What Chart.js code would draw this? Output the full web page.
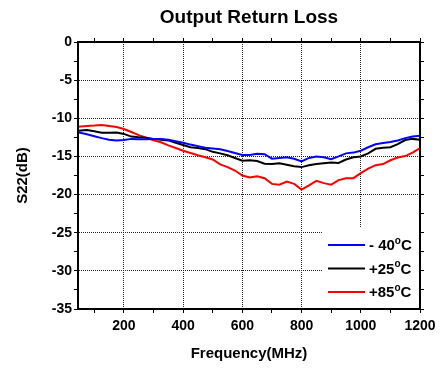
<!DOCTYPE html>
<html><head><meta charset="utf-8">
<script src="https://cdn.jsdelivr.net/npm/chart.js@4/dist/chart.umd.min.js"></script>
<style>html,body{margin:0;padding:0;background:#fff}#wrap{width:448px;height:369px}</style>
</head><body><div id="wrap"><canvas id="c" width="448" height="369"></canvas></div>
<script>
const freqMHz = [45,75,100,125,150,175,200,225,250,275,300,325,350,375,400,425,450,475,500,525,550,575,600,625,650,675,700,725,750,775,800,825,850,875,900,925,950,975,1000,1025,1050,1075,1100,1125,1150,1175,1200];
const s22Minus40 = [-11.83,-12.1,-12.35,-12.6,-12.8,-12.9,-12.85,-12.7,-12.75,-12.75,-12.7,-12.7,-12.8,-13.0,-13.2,-13.45,-13.65,-13.85,-13.95,-14.05,-14.3,-14.55,-14.8,-14.8,-14.65,-14.7,-15.3,-15.2,-15.1,-15.3,-15.66,-15.2,-15.0,-15.1,-15.35,-15.0,-14.6,-14.5,-14.25,-13.8,-13.4,-13.25,-13.1,-12.9,-12.6,-12.4,-12.3];
const s22Plus25 = [-11.65,-11.55,-11.7,-11.9,-11.9,-11.85,-12.05,-12.4,-12.5,-12.55,-12.7,-12.8,-12.9,-13.2,-13.5,-13.8,-13.9,-14.05,-14.4,-14.6,-14.85,-15.2,-15.57,-15.5,-15.6,-15.95,-16.0,-15.9,-16.1,-16.3,-16.4,-16.15,-16.0,-15.9,-15.8,-15.85,-15.4,-15.1,-15.0,-14.6,-14.0,-13.85,-13.8,-13.4,-12.85,-12.7,-12.8];
const s22Plus85 = [-11.1,-11.0,-10.95,-10.87,-11.0,-11.15,-11.4,-11.8,-12.2,-12.55,-12.9,-13.15,-13.55,-13.9,-14.26,-14.55,-14.85,-15.1,-15.4,-16.05,-16.4,-16.85,-17.5,-17.75,-17.6,-17.85,-18.6,-18.7,-18.3,-18.6,-19.35,-18.8,-18.2,-18.5,-18.7,-18.1,-17.85,-17.85,-17.2,-16.6,-16.15,-16.0,-15.5,-15.15,-14.95,-14.5,-13.9];
const seriesLabels = ['- 40°C', '+25°C', '+85°C'];
const seriesColors = ['#0000ff', '#000000', '#ff0000'];
const xTickLabels = [200, 400, 600, 800, 1000, 1200];
const xMinorTicks = [100, 300, 500, 700, 900, 1100];
const yTickLabels = [0, -5, -10, -15, -20, -25, -30, -35];
const yMinorTicks = [-2.5, -7.5, -12.5, -17.5, -22.5, -27.5, -32.5];

const seriesValues = [s22Minus40, s22Plus25, s22Plus85];
const FONT = "'Liberation Sans', Arial, sans-serif";

function pts(vals) { return freqMHz.map((f, i) => ({x: f, y: vals[i]})); }

const xAll = xMinorTicks.concat(xTickLabels).sort((a,b)=>a-b);
const yAll = yMinorTicks.concat(yTickLabels).sort((a,b)=>a-b);

const frame = {
  id: 'frame',
  afterDraw(chart) {
    const {ctx, chartArea: a} = chart;
    // legend box
    ctx.save();
    ctx.fillStyle = '#fff';
    ctx.fillRect(322, 227, a.right - 1 - 322, a.bottom - 1 - 227);
    seriesLabels.forEach((lab, i) => {
      const y = 245 + 23.5 * i;
      ctx.strokeStyle = seriesColors[i];
      ctx.lineWidth = 2;
      ctx.beginPath(); ctx.moveTo(328, y); ctx.lineTo(365, y); ctx.stroke();
      ctx.fillStyle = '#000';
      ctx.textBaseline = 'middle';
      ctx.textAlign = 'left';
      const parts = lab.split('°');
      ctx.font = 'bold 15px ' + FONT;
      let x = 369;
      ctx.fillText(parts[0], x, y + 1);
      x += ctx.measureText(parts[0]).width;
      ctx.font = 'bold 10px ' + FONT;
      ctx.fillText('o', x, y - 4);
      x += ctx.measureText('o').width;
      ctx.font = 'bold 15px ' + FONT;
      ctx.fillText(parts[1], x, y + 1);
    });
    ctx.strokeStyle = '#000';
    ctx.lineWidth = 2;
    ctx.strokeRect(a.left, a.top, a.right - a.left, a.bottom - a.top);
    ctx.restore();
  }
};

const gridColX = c => (c.tick && xTickLabels.includes(c.tick.value) && c.tick.value < 1200) ? '#222' : 'rgba(0,0,0,0)';
const gridColY = c => (c.tick && yTickLabels.includes(c.tick.value) && c.tick.value < 0 && c.tick.value > -35) ? '#222' : 'rgba(0,0,0,0)';

new Chart(document.getElementById('c'), {
  type: 'scatter',
  data: {
    datasets: seriesValues.map((v, i) => ({
      label: seriesLabels[i], data: pts(v), showLine: true, pointRadius: 0,
      borderColor: seriesColors[i], borderWidth: 2, tension: 0, fill: false
    }))
  },
  options: {
    responsive: false, animation: false, devicePixelRatio: 1,
    layout: {padding: 0},
    plugins: {
      legend: {display: false}, tooltip: {enabled: false},
      title: {display: true, text: 'Output Return Loss', fullSize: false, color: '#000',
        font: {family: FONT, size: 19, weight: 'bold', lineHeight: 1.2}, padding: {top: 6, bottom: 0}}
    },
    scales: {
      x: {
        type: 'linear', position: 'bottom', min: 45, max: 1200,
        afterBuildTicks: s => { s.ticks = xAll.map(v => ({value: v})); },
        afterFit: s => { s.height = 60; },
        ticks: {callback: v => xTickLabels.includes(v) ? String(v) : '', color: '#000', padding: 5,
          maxRotation: 0, autoSkip: false, font: {family: FONT, size: 14, weight: 'bold'}},
        grid: {color: gridColX, lineWidth: 1, tickColor: '#000', tickLength: 4, tickWidth: 1},
        border: {display: true, color: '#000', width: 2, dash: [1, 1]},
        title: {display: true, text: 'Frequency(MHz)', color: '#000',
          font: {family: FONT, size: 15, weight: 'bold'}, padding: {top: 0, bottom: 6}}
      },
      x2: {
        type: 'linear', position: 'top', min: 45, max: 1200,
        afterBuildTicks: s => { s.ticks = xAll.map(v => ({value: v})); },
        afterFit: s => { s.height = 13.2; },
        ticks: {display: false},
        grid: {drawOnChartArea: false, tickColor: '#000', tickLength: 4},
        border: {display: true, color: '#000', width: 2}
      },
      y: {
        type: 'linear', position: 'left', min: -35, max: 0,
        afterBuildTicks: s => { s.ticks = yAll.map(v => ({value: v})); },
        afterFit: s => { s.width = 78; },
        ticks: {callback: v => yTickLabels.includes(v) ? String(v) : '', color: '#000', padding: 2,
          autoSkip: false, font: {family: FONT, size: 14, weight: 'bold'}},
        grid: {color: gridColY, lineWidth: 1, tickColor: '#000', tickLength: 4, tickWidth: 1},
        border: {display: true, color: '#000', width: 2, dash: [1, 1]},
        title: {display: true, text: 'S22(dB)', color: '#000',
          font: {family: FONT, size: 15, weight: 'bold'}, padding: {top: 14, bottom: 0}}
      },
      y2: {
        type: 'linear', position: 'right', min: -35, max: 0,
        afterBuildTicks: s => { s.ticks = yAll.map(v => ({value: v})); },
        afterFit: s => { s.width = 28; },
        ticks: {display: false},
        grid: {drawOnChartArea: false, tickColor: '#000', tickLength: 4},
        border: {display: true, color: '#000', width: 2}
      }
    }
  },
  plugins: [frame]
});
</script></body></html>
